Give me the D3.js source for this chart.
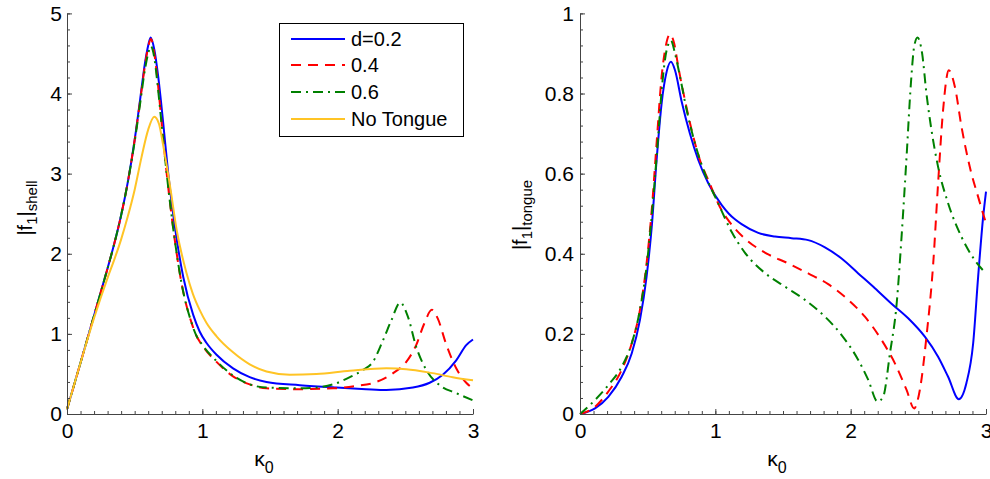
<!DOCTYPE html>
<html lang="en">
<head>
  <meta charset="UTF-8" />
  <script src="https://d3js.org/d3.v7.min.js"></script>
  <style>
    body { margin: 0; background: #fff; }
    text { font-family: "Liberation Sans", Arial, Helvetica, sans-serif; }
  </style>
</head>
<body>
  <div id="scene"></div>

  <script>
    // |f1|shell, values as [kappa0, value]
    const shellD02 = [[0,0.06],[0.1,0.64],[0.2,1.23],[0.3,1.82],[0.35,2.13],[0.4,2.48],[0.45,2.9],[0.5,3.42],[0.54,3.92],[0.576,4.38],[0.6,4.6],[0.618,4.7],[0.645,4.55],[0.674,4.21],[0.711,3.63],[0.748,3.0],[0.797,2.34],[0.859,1.71],[0.932,1.24],[0.98,1.03],[1.03,0.89],[1.105,0.74],[1.227,0.57],[1.35,0.46],[1.474,0.4],[1.72,0.36],[1.99,0.33],[2.21,0.31],[2.36,0.3],[2.556,0.33],[2.68,0.39],[2.777,0.49],[2.876,0.67],[2.95,0.86],[3.0,0.93]];
    const shellD04 = [[0,0.06],[0.1,0.64],[0.2,1.23],[0.3,1.82],[0.35,2.13],[0.4,2.48],[0.45,2.9],[0.5,3.42],[0.54,3.9],[0.576,4.35],[0.6,4.58],[0.62,4.68],[0.645,4.5],[0.67,4.15],[0.7,3.62],[0.74,2.95],[0.79,2.25],[0.85,1.6],[0.92,1.14],[0.95,1.0],[1.006,0.84],[1.105,0.65],[1.227,0.47],[1.35,0.37],[1.474,0.32],[1.72,0.31],[1.966,0.32],[2.14,0.35],[2.286,0.4],[2.41,0.51],[2.507,0.65],[2.58,0.86],[2.64,1.13],[2.696,1.3],[2.74,1.19],[2.8,0.88],[2.876,0.57],[2.95,0.39],[3.0,0.32]];
    const shellD06 = [[0,0.06],[0.1,0.64],[0.2,1.23],[0.3,1.82],[0.35,2.13],[0.4,2.48],[0.45,2.9],[0.5,3.4],[0.54,3.87],[0.576,4.3],[0.6,4.5],[0.62,4.59],[0.645,4.45],[0.67,4.1],[0.7,3.6],[0.74,2.95],[0.79,2.25],[0.85,1.6],[0.92,1.14],[0.95,1.0],[1.006,0.85],[1.105,0.66],[1.227,0.48],[1.35,0.37],[1.474,0.33],[1.72,0.32],[1.843,0.33],[1.966,0.37],[2.09,0.46],[2.187,0.55],[2.26,0.65],[2.335,0.92],[2.397,1.17],[2.462,1.39],[2.52,1.21],[2.58,0.84],[2.655,0.55],[2.753,0.36],[2.876,0.26],[3.0,0.17]];
    const shellNoTongue = [[0,0.06],[0.1,0.64],[0.2,1.2],[0.3,1.7],[0.35,1.93],[0.4,2.18],[0.45,2.47],[0.5,2.8],[0.55,3.2],[0.6,3.55],[0.645,3.71],[0.68,3.62],[0.711,3.35],[0.76,2.86],[0.81,2.3],[0.883,1.76],[0.93,1.5],[0.98,1.3],[1.03,1.14],[1.105,0.97],[1.227,0.77],[1.35,0.62],[1.474,0.53],[1.646,0.49],[1.843,0.5],[2.09,0.54],[2.36,0.57],[2.507,0.56],[2.7,0.51],[2.85,0.46],[3.0,0.42]];

    // |f1|tongue
    const tongueD02 = [[0,0],[0.111,0.014],[0.209,0.043],[0.308,0.093],[0.382,0.151],[0.443,0.235],[0.492,0.343],[0.53,0.467],[0.566,0.634],[0.603,0.775],[0.64,0.854],[0.672,0.879],[0.702,0.858],[0.751,0.78],[0.812,0.7],[0.874,0.634],[0.948,0.576],[1.046,0.522],[1.1,0.5],[1.145,0.486],[1.194,0.474],[1.317,0.452],[1.44,0.443],[1.563,0.439],[1.686,0.434],[1.81,0.416],[1.933,0.388],[2.056,0.351],[2.179,0.314],[2.3,0.276],[2.425,0.239],[2.548,0.193],[2.646,0.143],[2.72,0.093],[2.799,0.037],[2.855,0.077],[2.905,0.176],[2.942,0.343],[2.979,0.492],[3.0,0.555]];
    const tongueD04 = [[0,0],[0.111,0.018],[0.209,0.056],[0.308,0.11],[0.382,0.176],[0.443,0.26],[0.492,0.376],[0.53,0.509],[0.566,0.676],[0.603,0.842],[0.633,0.917],[0.665,0.948],[0.696,0.925],[0.726,0.867],[0.775,0.784],[0.825,0.709],[0.886,0.634],[0.948,0.584],[1.046,0.509],[1.095,0.484],[1.218,0.438],[1.366,0.403],[1.538,0.376],[1.686,0.351],[1.834,0.324],[1.982,0.285],[2.105,0.243],[2.228,0.185],[2.326,0.127],[2.413,0.06],[2.469,0.014],[2.511,0.06],[2.56,0.193],[2.61,0.376],[2.646,0.576],[2.683,0.759],[2.725,0.858],[2.77,0.817],[2.819,0.717],[2.88,0.617],[2.942,0.542],[3.0,0.476]];
    const tongueD06 = [[0,0],[0.111,0.035],[0.209,0.072],[0.308,0.118],[0.382,0.176],[0.443,0.26],[0.492,0.368],[0.534,0.509],[0.574,0.676],[0.608,0.825],[0.64,0.908],[0.672,0.932],[0.702,0.9],[0.739,0.842],[0.788,0.759],[0.849,0.676],[0.923,0.6],[1.021,0.526],[1.12,0.455],[1.218,0.403],[1.366,0.352],[1.514,0.318],[1.662,0.285],[1.81,0.243],[1.933,0.197],[2.056,0.135],[2.13,0.085],[2.199,0.031],[2.24,0.043],[2.29,0.151],[2.34,0.276],[2.376,0.442],[2.413,0.642],[2.445,0.825],[2.469,0.917],[2.494,0.94],[2.528,0.9],[2.56,0.8],[2.597,0.709],[2.646,0.617],[2.72,0.526],[2.819,0.442],[2.917,0.384],[3.0,0.351]];

    const xTicks = [0, 1, 2, 3];
    const shellYTicks = [0, 1, 2, 3, 4, 5];
    const tongueYTicks = [0, 0.2, 0.4, 0.6, 0.8, 1];
    const legendLabels = ["d=0.2", "0.4", "0.6", "No Tongue"];

    const styles = [
      { color: "#0000ff", dash: null },
      { color: "#ff0000", dash: "10,7" },
      { color: "#008000", dash: "10,5,2,5" },
      { color: "#ffc425", dash: null }
    ];

    const svg = d3.select("#scene").append("svg")
      .attr("width", 990).attr("height", 479);

    function panel(opt) {
      const x = d3.scaleLinear().domain([0, 3]).range([opt.left, opt.right]);
      const y = d3.scaleLinear().domain([0, opt.yMax]).range([414, 13.4]);
      const g = svg.append("g");

      const line = d3.line().curve(d3.curveMonotoneX)
        .x(d => x(d[0])).y(d => y(d[1]));

      opt.series.forEach((s, i) => {
        const st = styles[i];
        g.append("path").datum(s)
          .attr("d", line)
          .attr("fill", "none")
          .attr("stroke", st.color)
          .attr("stroke-width", 2)
          .attr("stroke-dasharray", st.dash);
      });

      // minor ticks
      const xMinor = d3.range(0, 31).map(i => i / 10);
      const yMinor = d3.range(0, Math.round(opt.yMax / opt.yMinorStep) + 1).map(i => i * opt.yMinorStep);
      g.append("g").attr("transform", `translate(0,414)`)
        .call(d3.axisBottom(x).tickValues(xMinor).tickSize(-3).tickFormat(""))
        .call(a => a.select(".domain").remove());
      g.append("g").attr("transform", `translate(${opt.left},0)`)
        .call(d3.axisLeft(y).tickValues(yMinor).tickSize(-3).tickFormat(""))
        .call(a => a.select(".domain").remove());

      // major axes
      const ax = g.append("g").attr("transform", `translate(0,414)`)
        .call(d3.axisBottom(x).tickValues(xTicks).tickSizeInner(-5).tickSizeOuter(0).tickPadding(9).tickFormat(d3.format("d")));
      const ay = g.append("g").attr("transform", `translate(${opt.left},0)`)
        .call(d3.axisLeft(y).tickValues(opt.yTicks).tickSizeInner(-5).tickSizeOuter(0).tickPadding(opt.yPad).tickFormat(opt.fmt));

      g.selectAll(".tick line, .domain").attr("stroke", "#444");
      [ax, ay].forEach(a => a.selectAll("text")
        .attr("font-size", 21).attr("fill", "#000")
        .style("font-family", '"Liberation Sans", Arial, sans-serif'));

      // x label
      const cx = (opt.left + opt.right) / 2;
      const xl = g.append("text").attr("x", cx - 6).attr("y", 466)
        .attr("text-anchor", "middle").attr("font-size", 21);
      xl.append("tspan").text("\u03ba");
      xl.append("tspan").attr("dy", 7).attr("font-size", 16).text("0");

      // y label
      const yl = g.append("text")
        .attr("transform", `translate(${opt.yLabelX},${opt.yLabelY}) rotate(-90)`)
        .attr("text-anchor", "middle").attr("font-size", 20);
      yl.append("tspan").text("|f");
      yl.append("tspan").attr("dy", 5).attr("font-size", 15).text("1");
      yl.append("tspan").attr("dy", -5).text("|");
      yl.append("tspan").attr("dy", 5).attr("font-size", 15).text(opt.sub);

      return { x, y, g };
    }

    panel({
      left: 67, right: 473, yMax: 5, yMinorStep: 0.2, yTicks: shellYTicks, yPad: 5,
      fmt: d3.format("d"), series: [shellD02, shellD04, shellD06, shellNoTongue],
      sub: "shell", yLabelX: 32, yLabelY: 208
    });

    panel({
      left: 580, right: 986, yMax: 1, yMinorStep: 0.04, yTicks: tongueYTicks, yPad: 6,
      fmt: d => d === 0 || d === 1 ? d3.format("d")(d) : d3.format(".1f")(d),
      series: [tongueD02, tongueD04, tongueD06],
      sub: "tongue", yLabelX: 527, yLabelY: 215
    });

    // legend
    const leg = svg.append("g");
    leg.append("rect").attr("x", 279.5).attr("y", 23.5).attr("width", 184).attr("height", 113)
      .attr("fill", "#fff").attr("stroke", "#000").attr("stroke-width", 1);
    const rowY = [39, 65, 92, 119];
    legendLabels.forEach((lab, i) => {
      leg.append("line").attr("x1", 291).attr("x2", 345).attr("y1", rowY[i]).attr("y2", rowY[i])
        .attr("stroke", styles[i].color).attr("stroke-width", 2)
        .attr("stroke-dasharray", styles[i].dash);
      leg.append("text").attr("x", 351).attr("y", rowY[i] + 7)
        .attr("font-size", 20).text(lab);
    });
  </script>
</body>
</html>
